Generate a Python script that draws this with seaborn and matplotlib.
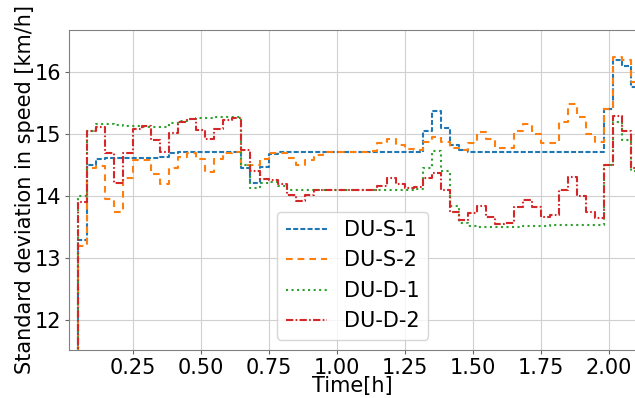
import numpy as np
import pandas as pd
import matplotlib
matplotlib.use("Agg")
import matplotlib.pyplot as plt
import seaborn as sns

# time stamps in minutes
minutes = [1, 3, 5, 7, 9, 11, 13, 15, 17, 19, 21, 23, 25, 27, 29, 31, 33, 35, 37, 39,
           41, 43, 45, 47, 49, 51, 53, 55, 57, 59, 61, 63, 65, 67, 69, 71, 73, 75, 77, 79,
           81, 83, 85, 87, 89, 91, 93, 95, 97, 99, 101, 103, 105, 107, 109, 111, 113, 115,
           117, 119, 121, 123, 125, 126]

du_s_1 = [10.5, 13.3, 14.5, 14.6, 14.62, 14.62, 14.62, 14.62, 14.62, 14.62, 14.63, 14.69,
          14.72, 14.72, 14.72, 14.72, 14.72, 14.72, 14.72, 14.45, 14.22, 14.47, 14.68, 14.72,
          14.72, 14.72, 14.72, 14.72, 14.72, 14.72, 14.72, 14.72, 14.72, 14.72, 14.72, 14.72,
          14.72, 14.72, 14.72, 15.05, 15.38, 15.1, 14.82, 14.74,
          14.72, 14.72, 14.72, 14.72, 14.72, 14.72, 14.72, 14.72, 14.72, 14.72, 14.72, 14.72,
          14.72, 14.72, 14.72, 15.4, 16.2, 16.1, 15.76, 15.76]

du_s_2 = [10.5, 13.2, 14.45, 14.48, 13.95, 13.75, 14.3, 14.58, 14.58, 14.35, 14.2, 14.45,
          14.63, 14.69, 14.6, 14.39, 14.6, 14.69, 14.71, 14.5, 14.5, 14.6, 14.7, 14.7,
          14.62, 14.5, 14.58, 14.66, 14.72, 14.72, 14.72, 14.72, 14.72, 14.73, 14.85, 14.93,
          14.82, 14.76, 14.74, 14.87, 14.96, 14.88, 14.78, 14.74, 14.85, 15.03, 14.92, 14.77,
          14.78, 15.05, 15.17, 15.0, 14.85, 14.85, 15.2, 15.48, 15.28, 15.0, 14.88, 15.4,
          16.25, 16.2, 15.84, 15.84]

du_d_1 = [10.5, 14.0, 15.05, 15.16, 15.17, 15.15, 15.13, 15.13, 15.12, 15.12, 15.12, 15.18,
          15.22, 15.25, 15.26, 15.26, 15.27, 15.27, 15.27, 14.5, 14.13, 14.22, 14.23, 14.16,
          14.1, 14.1, 14.1, 14.1, 14.1, 14.1, 14.1, 14.1, 14.1, 14.1, 14.1, 14.1, 14.1, 14.1,
          14.12, 14.45, 14.73, 14.4, 13.85, 13.57,
          13.52, 13.5, 13.5, 13.5, 13.51, 13.51, 13.52, 13.52, 13.52, 13.53, 13.53, 13.53,
          13.53, 13.53, 13.54, 14.5, 15.2, 14.9, 14.4, 14.4]

du_d_2 = [10.5, 13.9, 15.05, 15.12, 14.7, 14.22, 14.7, 15.08, 15.14, 14.9, 14.72, 15.02,
          15.2, 15.24, 15.06, 14.92, 15.08, 15.23, 15.26, 14.75, 14.4, 14.27, 14.26, 14.2,
          14.02, 13.93, 14.02, 14.1, 14.1, 14.1, 14.1, 14.1, 14.1, 14.1, 14.17, 14.29,
          14.2, 14.13, 14.15, 14.3, 14.38, 14.1, 13.75, 13.61, 13.73, 13.84, 13.66, 13.55,
          13.56, 13.82, 13.94, 13.83, 13.67, 13.7, 14.1, 14.31, 14.0, 13.74, 13.65, 14.5,
          15.3, 15.05, 14.45, 14.45]

series_names = ["DU-S-1", "DU-S-2", "DU-D-1", "DU-D-2"]
colors = ["#1f77b4", "#ff7f0e", "#2ca02c", "#d62728"]

hours = np.array(minutes) / 60.0
frames = []
for name, vals in zip(series_names, [du_s_1, du_s_2, du_d_1, du_d_2]):
    frames.append(pd.DataFrame({"Time": hours, "value": vals, "series": name}))
df = pd.concat(frames, ignore_index=True)

plt.rcParams["font.family"] = ["DejaVu Sans"]

fig = plt.figure(figsize=(6.35, 3.98), dpi=100)
ax = fig.add_axes([69 / 635, 48 / 398, (636 - 69) / 635, 320 / 398])

dashes = {"DU-S-1": (2.4, 1.05), "DU-S-2": (3.2, 2.4),
          "DU-D-1": (1, 1.65), "DU-D-2": (3.5, 1.1, 0.8, 1.1)}

sns.lineplot(data=df, x="Time", y="value", hue="series", style="series",
             hue_order=series_names, style_order=series_names,
             palette=dict(zip(series_names, colors)), dashes=dashes,
             drawstyle="steps-post", linewidth=1.5, ax=ax)

ax.set_xlim(1 / 60, 2.1)
ax.set_ylim(11.52, 16.68)
ax.set_xticks([0.25, 0.5, 0.75, 1.0, 1.25, 1.5, 1.75, 2.0])
ax.set_yticks([12, 13, 14, 15, 16])
ax.grid(True, color="#d0d0d0", linewidth=0.8)
ax.set_axisbelow(True)
for s in ax.spines.values():
    s.set_color("0.5")
ax.tick_params(labelsize=15, length=3, pad=2.5, color="0.4")
ax.set_xlabel("Time[h]", fontsize=15, labelpad=-1)
ax.set_ylabel("Standard deviation in speed [km/h]", fontsize=15, labelpad=0)

leg = ax.legend(loc="lower center", fontsize=15, title=None)

fig.savefig("out.png", dpi=100)
